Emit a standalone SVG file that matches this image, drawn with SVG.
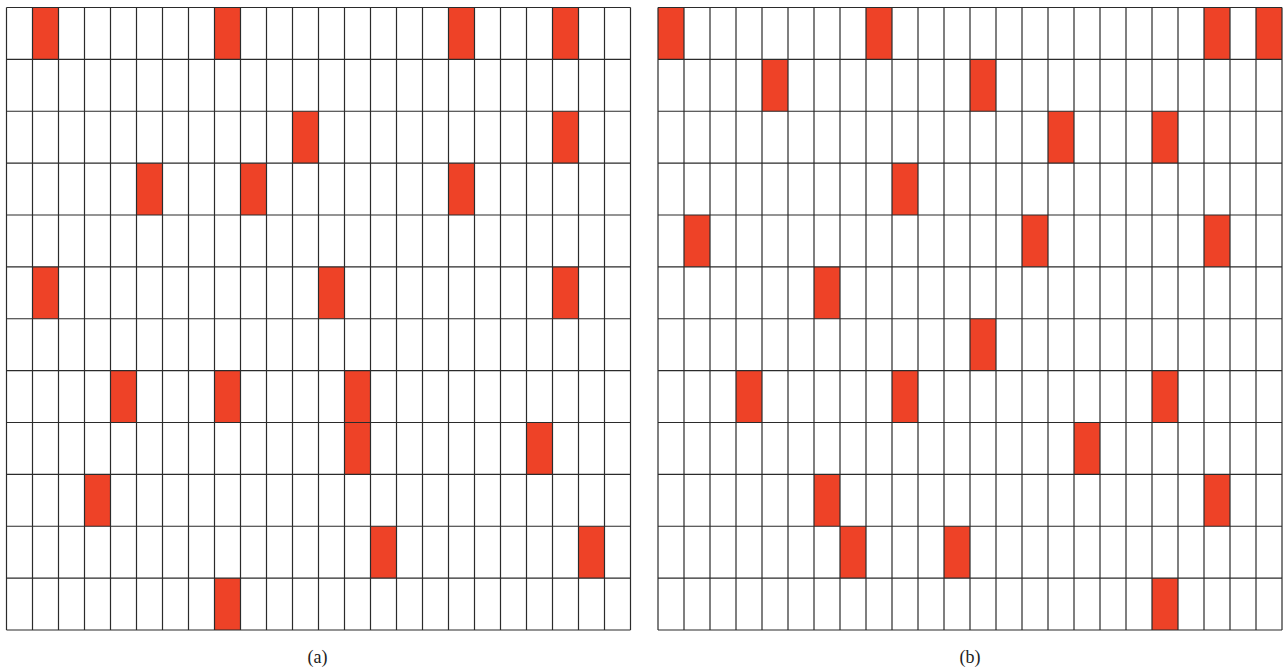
<svg xmlns="http://www.w3.org/2000/svg" width="1285" height="671" viewBox="0 0 1285 671">
<style>
.cell{fill:#EE4227}
.grid{fill:none;stroke:#2b2b2b;stroke-width:1.2}
.lbl{font-family:"Liberation Serif",serif;font-size:18px;fill:#222;text-anchor:middle}
</style>
<defs>
<rect id="c" class="cell" width="26" height="51.875"/>
<path id="g" class="grid" d="M0 0V622.5M26 0V622.5M52 0V622.5M78 0V622.5M104 0V622.5M130 0V622.5M156 0V622.5M182 0V622.5M208 0V622.5M234 0V622.5M260 0V622.5M286 0V622.5M312 0V622.5M338 0V622.5M364 0V622.5M390 0V622.5M416 0V622.5M442 0V622.5M468 0V622.5M494 0V622.5M520 0V622.5M546 0V622.5M572 0V622.5M598 0V622.5M624 0V622.5M0 0H624M0 51.875H624M0 103.75H624M0 155.625H624M0 207.5H624M0 259.375H624M0 311.25H624M0 363.125H624M0 415H624M0 466.875H624M0 518.75H624M0 570.625H624M0 622.5H624"/>
</defs>
<rect width="1285" height="671" fill="#fff"/>
<g id="grid-a" transform="translate(6.5,7.5)">
<use href="#c" x="26" y="0"/>
<use href="#c" x="208" y="0"/>
<use href="#c" x="442" y="0"/>
<use href="#c" x="546" y="0"/>
<use href="#c" x="286" y="103.75"/>
<use href="#c" x="546" y="103.75"/>
<use href="#c" x="130" y="155.625"/>
<use href="#c" x="234" y="155.625"/>
<use href="#c" x="442" y="155.625"/>
<use href="#c" x="26" y="259.375"/>
<use href="#c" x="312" y="259.375"/>
<use href="#c" x="546" y="259.375"/>
<use href="#c" x="104" y="363.125"/>
<use href="#c" x="208" y="363.125"/>
<use href="#c" x="338" y="363.125"/>
<use href="#c" x="338" y="415"/>
<use href="#c" x="520" y="415"/>
<use href="#c" x="78" y="466.875"/>
<use href="#c" x="364" y="518.75"/>
<use href="#c" x="572" y="518.75"/>
<use href="#c" x="208" y="570.625"/>
<use href="#g"/>
</g>
<g id="grid-b" transform="translate(658,7.5)">
<use href="#c" x="0" y="0"/>
<use href="#c" x="208" y="0"/>
<use href="#c" x="546" y="0"/>
<use href="#c" x="598" y="0"/>
<use href="#c" x="104" y="51.875"/>
<use href="#c" x="312" y="51.875"/>
<use href="#c" x="390" y="103.75"/>
<use href="#c" x="494" y="103.75"/>
<use href="#c" x="234" y="155.625"/>
<use href="#c" x="26" y="207.5"/>
<use href="#c" x="364" y="207.5"/>
<use href="#c" x="546" y="207.5"/>
<use href="#c" x="156" y="259.375"/>
<use href="#c" x="312" y="311.25"/>
<use href="#c" x="78" y="363.125"/>
<use href="#c" x="234" y="363.125"/>
<use href="#c" x="494" y="363.125"/>
<use href="#c" x="416" y="415"/>
<use href="#c" x="156" y="466.875"/>
<use href="#c" x="546" y="466.875"/>
<use href="#c" x="182" y="518.75"/>
<use href="#c" x="286" y="518.75"/>
<use href="#c" x="494" y="570.625"/>
<use href="#g"/>
</g>
<text id="label-a" class="lbl" x="317.5" y="663">(a)</text>
<text id="label-b" class="lbl" x="970" y="663">(b)</text>
</svg>
